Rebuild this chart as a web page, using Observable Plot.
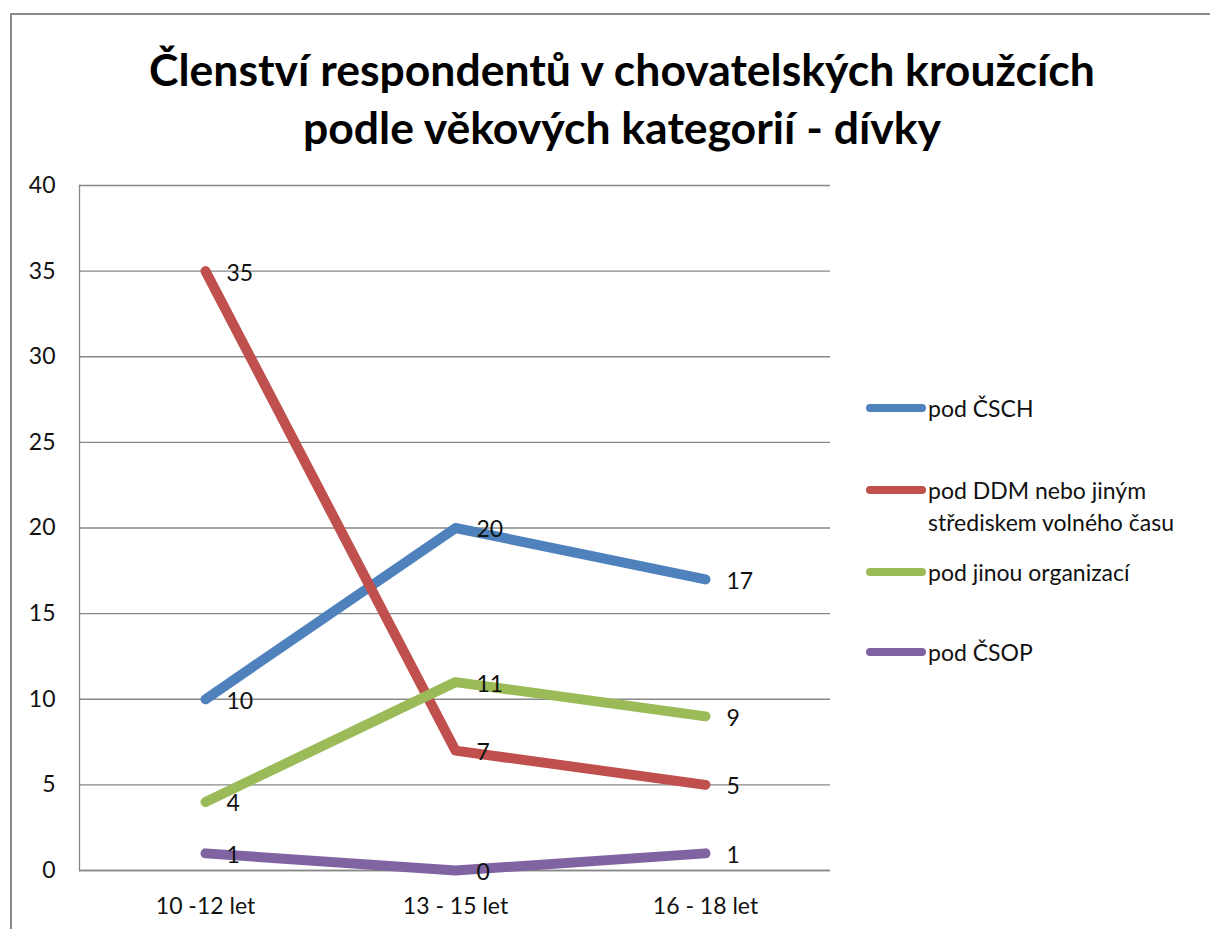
<!DOCTYPE html>
<html><head><meta charset="utf-8">
<script src="https://cdn.jsdelivr.net/npm/d3@7"></script>
<script src="https://cdn.jsdelivr.net/npm/@observablehq/plot@0.6"></script>
<style>
body{margin:0;background:#fff;font-family:Lato,"Open Sans",sans-serif;}
#wrap{position:relative;width:1210px;height:929px;overflow:hidden;}
#frame{position:absolute;left:10px;top:13px;width:1300px;height:1000px;border:2px solid #8a8a8a;box-sizing:border-box;}
#title{position:absolute;left:0;top:40px;width:1244px;text-align:center;font-weight:bold;font-size:44.5px;line-height:58px;color:#000;}
#chart{position:absolute;left:0;top:0;}
#legend{position:absolute;left:866px;top:0;font-size:23px;color:#111;}
.li{position:absolute;display:flex;align-items:flex-start;white-space:nowrap;line-height:32px;}
.sw{width:60px;height:8px;border-radius:4px;margin-top:12px;margin-right:2px;}
</style></head>
<body>
<div id="wrap">
<div id="frame"></div>
<div id="chart"></div>
<div id="title">Členství respondentů v chovatelských kroužcích<br>podle věkových kategorií - dívky</div>
<div id="legend"></div>
</div>
<script>
const categories = ["10 -12 let", "13 - 15 let", "16 - 18 let"];
const seriesNames = ["pod ČSCH", "pod DDM nebo jiným střediskem volného času", "pod jinou organizací", "pod ČSOP"];
const legendLabels = ["pod ČSCH", "pod DDM nebo jiným<br>střediskem volného času", "pod jinou organizací", "pod ČSOP"];
const colors = ["#4F81BD", "#C0504D", "#9BBB59", "#8064A2"];
const valsCSCH = [10, 20, 17];
const valsDDM = [35, 7, 5];
const valsJina = [4, 11, 9];
const valsCSOP = [1, 0, 1];
const yTicks = [0, 5, 10, 15, 20, 25, 30, 35, 40];

const allVals = [valsCSCH, valsDDM, valsJina, valsCSOP];
const data = [];
allVals.forEach((vals, si) => vals.forEach((v, ci) => data.push({series: seriesNames[si], cat: categories[ci], value: v})));

const plot = Plot.plot({
  width: 1210, height: 929,
  marginLeft: 79, marginRight: 380, marginTop: 185, marginBottom: 59,
  style: {fontFamily: "Lato, 'Open Sans', sans-serif", fontSize: "23px", color: "#111", background: "transparent"},
  x: {type: "point", domain: categories, padding: 0.5, label: null},
  y: {domain: [0, 40], ticks: yTicks, label: null},
  color: {domain: seriesNames, range: colors},
  marks: [
    Plot.gridY(yTicks, {stroke: "#888", strokeOpacity: 1, strokeWidth: 1.3}),
    Plot.frame({anchor: "left", stroke: "#888", strokeWidth: 1.3}),
    Plot.ruleY([0], {stroke: "#888", strokeWidth: 1.3}),
    Plot.axisY({ticks: yTicks, tickSize: 0, tickPadding: 24, fontSize: 23, fill: "#111", label: null}),
    Plot.axisX({tickSize: 0, tickPadding: 27, fontSize: 23, fill: "#111", label: null}),
    Plot.line(data, {x: "cat", y: "value", z: "series", stroke: "series", strokeWidth: 10, strokeLinecap: "round", strokeLinejoin: "round"}),
    Plot.text(data, {x: "cat", y: "value", text: d => String(d.value), dx: 21, dy: 2, textAnchor: "start", fontSize: 23, fill: "#111"})
  ]
});
document.getElementById("chart").appendChild(plot);

const legendTops = [392, 474, 556, 636];
const lg = document.getElementById("legend");
seriesNames.forEach((s, i) => {
  const d = document.createElement("div");
  d.className = "li";
  d.style.top = legendTops[i] + "px";
  d.innerHTML = `<div class="sw" style="background:${colors[i]}"></div><div>${legendLabels[i]}</div>`;
  lg.appendChild(d);
});
</script>
</body></html>
